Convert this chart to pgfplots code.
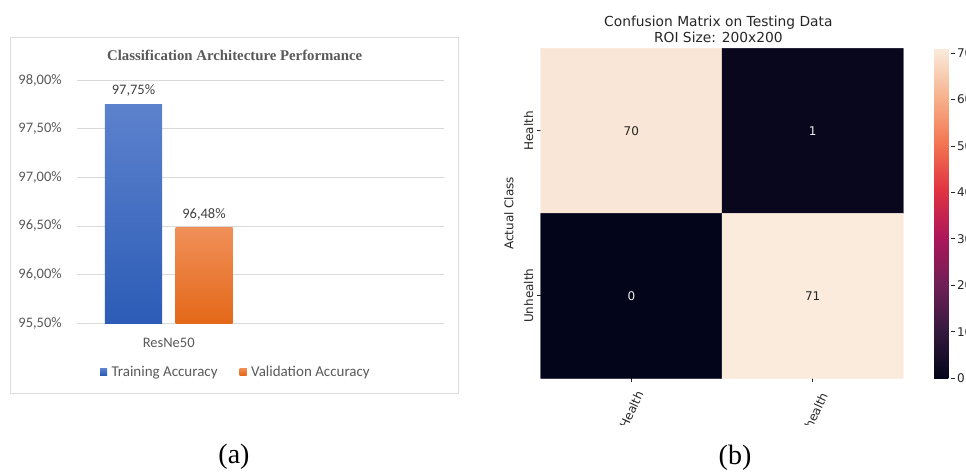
\documentclass[border=0pt]{standalone}
\usepackage{pgfplots}
\pgfplotsset{compat=1.18}
\usepackage{fontspec}
\setmainfont{Liberation Serif}
\newfontfamily\carlito{Carlito}
\newfontfamily\dejavu{DejaVu Sans}
\definecolor{txtgray}{HTML}{595959}
\definecolor{lblgray}{HTML}{404040}
\definecolor{gridgray}{HTML}{D9D9D9}
\definecolor{framegray}{HTML}{DDDDDD}
\definecolor{tickgray}{HTML}{262626}
\definecolor{blueT}{RGB}{93,130,205}
\definecolor{blueB}{RGB}{44,92,183}
\definecolor{orangeT}{RGB}{240,143,88}
\definecolor{orangeB}{RGB}{228,104,24}
\pgfplotsset{
  /pgf/number format/assume math mode=true,
  colormap={rocket}{rgb255(0)=(3,5,26) rgb255(1)=(53,25,62) rgb255(2)=(112,31,87) rgb255(3)=(173,23,89) rgb255(4)=(225,51,66) rgb255(5)=(243,118,81) rgb255(6)=(246,180,143) rgb255(7)=(250,235,221)}
}
\begin{document}
\begin{tikzpicture}
\useasboundingbox (0,0) rectangle (966bp,472bp);
\draw[framegray, line width=0.8bp] (10bp,79bp) rectangle (458bp,435bp);
\begin{axis}[
  name=bars,
  at={(77bp,148.7bp)}, anchor=south west,
  scale only axis, width=367bp, height=243.3bp,
  ybar=13.5bp, bar width=57bp,
  xmin=-0.5, xmax=1.5, ymin=95.5, ymax=98,
  y coord trafo/.code={\pgfmathparse{#1-95.5}},
  y coord inv trafo/.code={\pgfmathparse{#1+95.5}},
  ytick={95.5,96,96.5,97,97.5,98},
  yticklabels={{95,50\%},{96,00\%},{96,50\%},{97,00\%},{97,50\%},{98,00\%}},
  xtick={0}, xticklabels={ResNe50},
  major tick length=0pt,
  axis line style={draw=none},
  ymajorgrids, major grid style={draw=gridgray, line width=0.9bp},
  tick label style={font=\carlito\fontsize{14.5bp}{16bp}\selectfont, text=txtgray},
  yticklabel style={anchor=east, inner sep=0pt, xshift=-15bp},
  xticklabel style={anchor=north, inner sep=0pt, yshift=-14.7bp},
  title={Classification Architecture Performance},
  title style={at={(0.4297,1)}, anchor=center, yshift=19bp, inner sep=0pt, font=\bfseries\fontsize{14.8bp}{16bp}\selectfont, text=txtgray},
  point meta=rawy,
  nodes near coords={\pgfmathprintnumber[fixed,fixed zerofill,precision=2,use comma]{\pgfplotspointmeta}\%},
  every node near coord/.append style={font=\carlito\fontsize{14.5bp}{16bp}\selectfont, text=lblgray, anchor=center, yshift=13.5bp},
  legend style={at={(0.433,-0.199)}, anchor=center, draw=none, fill=none, legend columns=2,
    font=\carlito\fontsize{15bp}{16bp}\selectfont, text=txtgray,
    /tikz/every even column/.append style={column sep=20bp}},
]
\addplot[draw=none, top color=blueT, bottom color=blueB,
  legend image code/.code={\fill[blueT!60!blueB] (0bp,-3.5bp) rectangle (7bp,3.5bp); \path (9.5bp,0bp);}]
  coordinates {(0,97.75)};
\addplot[draw=none, top color=orangeT, bottom color=orangeB,
  legend image code/.code={\fill[orangeT!40!orangeB] (0bp,-3.5bp) rectangle (7bp,3.5bp); \path (9.5bp,0bp);}]
  coordinates {(0,96.48)};
\legend{Training Accuracy, Validation Accuracy}
\end{axis}

\begin{axis}[
  name=hm, at={(540.7bp,93.7bp)}, anchor=south west,
  scale only axis, width=362.6bp, height=330bp,
  xmin=-0.5, xmax=1.5, ymin=-0.5, ymax=1.5, y dir=reverse,
  axis line style={draw=none},
  xtick={0,1}, xticklabels={,}, ytick={0,1}, yticklabels={Health,Unhealth},
  tick align=outside, major tick length=3.5bp, xtick pos=bottom, ytick pos=left,
  tick style={draw=tickgray, line width=0.8bp},
  yticklabel style={xshift=-3.7bp, rotate=90, anchor=south, inner sep=0pt, font=\dejavu\fontsize{12bp}{14bp}\selectfont, text=tickgray},
  ylabel={Actual Class},
  ylabel style={at={([xshift=-31.7bp]rel axis cs:0,0.5)}, anchor=center, inner sep=0pt, font=\dejavu\fontsize{12bp}{14bp}\selectfont, text=tickgray},
  title={Confusion Matrix on Testing Data\\ROI Size: 200x200},
  title style={at={(0.49,1)}, anchor=south, yshift=-0.5bp, inner sep=0pt, align=center, font=\dejavu\fontsize{13.8bp}{16bp}\selectfont, text=tickgray},
  colormap name=rocket, point meta min=0, point meta max=71,
  colorbar,
  colorbar style={
    at={(parent axis.north east)}, anchor=north west, xshift=22.4bp,
    scale only axis, width=17bp, height=330bp,
    axis line style={draw=none},
    ytick={0,10,20,30,40,50,60,70}, xtick=\empty,
    tick align=outside, major tick length=3.5bp, ytick pos=right, yticklabel pos=right,
    tick style={draw=tickgray, line width=0.8bp},
    yticklabel style={anchor=west, inner sep=0pt, xshift=2.1bp, font=\dejavu\fontsize{12bp}{14bp}\selectfont, text=tickgray},
  },
]
\addplot[matrix plot*, mesh/cols=2, mesh/rows=2, point meta=explicit] table[meta=c] {
x y c
0 0 70
1 0 1
0 1 0
1 1 71
};
\node[font=\dejavu\fontsize{12bp}{14bp}\selectfont, text=tickgray] at (axis cs:0,0) {70};
\node[font=\dejavu\fontsize{12bp}{14bp}\selectfont, text=white!92!black] at (axis cs:1,0) {1};
\node[font=\dejavu\fontsize{12bp}{14bp}\selectfont, text=white!92!black] at (axis cs:0,1) {0};
\node[font=\dejavu\fontsize{12bp}{14bp}\selectfont, text=tickgray] at (axis cs:1,1) {71};
\end{axis}

\begin{scope}
\clip (500bp,47bp) rectangle (966bp,93.7bp);
\node[rotate=65, inner sep=0pt, font=\dejavu\fontsize{12bp}{14bp}\selectfont, text=tickgray] at (631.35bp,62bp) {Health};
\node[rotate=65, inner sep=0pt, font=\dejavu\fontsize{12bp}{14bp}\selectfont, text=tickgray] at (812.65bp,54bp) {Unhealth};
\end{scope}

\node[font=\fontsize{28bp}{30bp}\selectfont] at (234bp,15bp) {(a)};
\node[font=\fontsize{28bp}{30bp}\selectfont] at (735bp,14bp) {(b)};
\end{tikzpicture}
\end{document}
